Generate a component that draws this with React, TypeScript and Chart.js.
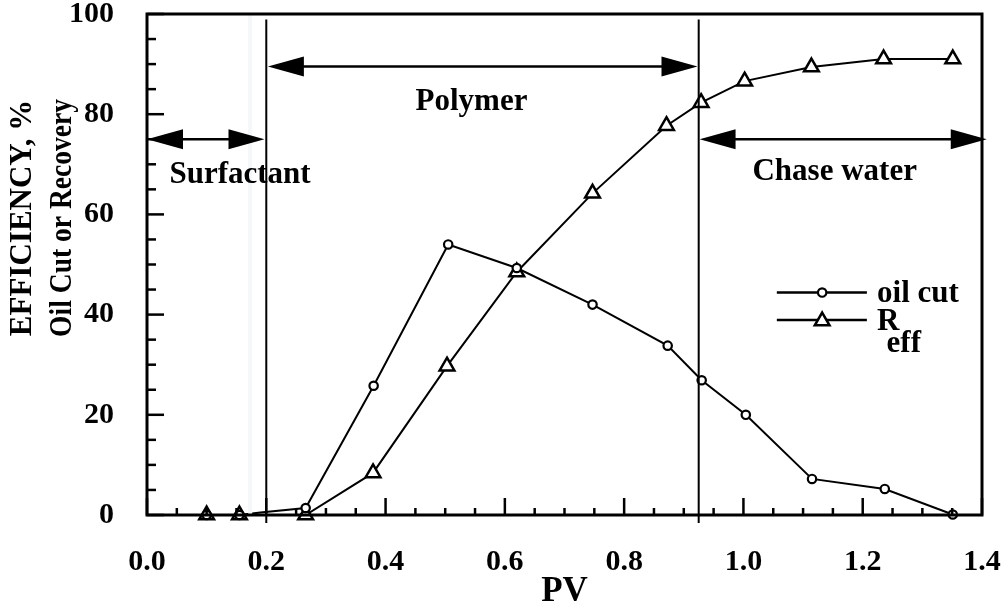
import React, { useEffect, useRef } from 'react';
import { Chart, registerables } from 'chart.js';

Chart.register(...registerables);

// ---- data ----
const oilCutPV = [0.1, 0.155, 0.19, 0.266, 0.38, 0.505, 0.62, 0.747, 0.873, 0.93, 1.004, 1.115, 1.237, 1.351];
const oilCut = [0, 0, 0.5, 1.4, 25.8, 54.0, 49.3, 42.0, 33.8, 26.9, 20.0, 7.2, 5.2, 0.1];
const oilCutHiddenMarker = [2];

const reffPV = [0.1, 0.155, 0.266, 0.379, 0.503, 0.62, 0.747, 0.871, 0.929, 1.002, 1.114, 1.235, 1.351];
const reff = [0, 0, 0, 8.4, 29.7, 48.5, 64.2, 77.7, 82.3, 86.6, 89.4, 91.0, 91.0];

// stage annotations
const stageBoundaries = [0.2, 0.925];
const faintLinePV = [0.173];
const stageNames = ['Surfactant', 'Polymer', 'Chase water'];
const arrowStart = [0.0, 0.2027, 0.9265];
const arrowEnd = [0.197, 0.923, 1.408];
const arrowLevel = [75, 89.5, 75];
const stageLabelPV = [0.156, 0.544, 1.153];
const stageLabelBaseline = [66.3, 80.8, 66.9];

const xMin = 0, xMax = 1.4, xStep = 0.2, xMinorStep = 0.05;
const yMin = 0, yMax = 100, yStep = 20, yMinorStep = 5;

const xTitle = 'PV';
const yTitleLines = ['EFFICIENCY, %', 'Oil Cut or Recovery'];
const legendNames = ['oil cut', 'R', 'eff'];

const FONT = '"Liberation Serif", "Times New Roman", serif';

function drawTriangle(ctx: CanvasRenderingContext2D, x: number, y: number, r: number) {
  ctx.beginPath();
  let rad = 0;
  ctx.moveTo(x + Math.sin(rad) * r, y - Math.cos(rad) * r);
  rad += (2 * Math.PI) / 3;
  ctx.lineTo(x + Math.sin(rad) * r, y - Math.cos(rad) * r);
  rad += (2 * Math.PI) / 3;
  ctx.lineTo(x + Math.sin(rad) * r, y - Math.cos(rad) * r);
  ctx.closePath();
  ctx.fillStyle = '#fff';
  ctx.fill();
  ctx.stroke();
}

function drawArrowHead(ctx: CanvasRenderingContext2D, tipX: number, y: number, dir: number) {
  const len = 36, half = 10;
  ctx.beginPath();
  ctx.moveTo(tipX, y);
  ctx.lineTo(tipX - dir * len, y - half);
  ctx.lineTo(tipX - dir * len, y + half);
  ctx.closePath();
  ctx.fillStyle = '#000';
  ctx.fill();
}

const decorPlugin = {
  id: 'decor',
  afterDatasetsDraw(chart: any) {
    const { ctx, chartArea, scales } = chart;
    const xs = scales.x, ys = scales.y;
    const X = (v: number) => xs.getPixelForValue(v);
    const Y = (v: number) => ys.getPixelForValue(v);
    ctx.save();

    // faint line
    ctx.strokeStyle = '#f4f8f8';
    ctx.lineWidth = 4;
    faintLinePV.forEach((v) => {
      ctx.beginPath();
      ctx.moveTo(X(v), chartArea.top);
      ctx.lineTo(X(v), chartArea.bottom);
      ctx.stroke();
    });

    // stage labels
    ctx.fillStyle = '#000';
    ctx.font = `bold 31px ${FONT}`;
    ctx.textAlign = 'center';
    ctx.textBaseline = 'alphabetic';
    stageNames.forEach((n, i) => {
      ctx.fillText(n, X(stageLabelPV[i]), Y(stageLabelBaseline[i]));
    });

    // stage boundaries
    ctx.strokeStyle = '#000';
    ctx.lineWidth = 2;
    stageBoundaries.forEach((v) => {
      ctx.beginPath();
      ctx.moveTo(X(v), Y(98.9));
      ctx.lineTo(X(v), Y(-1.6));
      ctx.stroke();
    });

    // arrows
    ctx.lineWidth = 2.5;
    arrowLevel.forEach((lv, i) => {
      const y = Y(lv);
      const a = X(arrowStart[i]);
      const b = X(arrowEnd[i]);
      ctx.strokeStyle = '#000';
      ctx.beginPath();
      ctx.moveTo(a + 20, y);
      ctx.lineTo(b - 20, y);
      ctx.stroke();
      drawArrowHead(ctx, a, y, -1);
      drawArrowHead(ctx, b, y, 1);
    });

    // frame
    ctx.strokeStyle = '#000';
    ctx.lineWidth = 3;
    ctx.strokeRect(chartArea.left, chartArea.top, chartArea.right - chartArea.left, chartArea.bottom - chartArea.top);

    // inward ticks
    ctx.lineWidth = 2.5;
    for (let v = xMin; v <= xMax + 1e-9; v += xMinorStep) {
      const major = Math.abs(v / xStep - Math.round(v / xStep)) < 1e-6;
      const px = X(v);
      ctx.beginPath();
      ctx.moveTo(px, chartArea.bottom);
      ctx.lineTo(px, chartArea.bottom - (major ? 17 : 7));
      ctx.stroke();
    }
    for (let v = yMin; v <= yMax + 1e-9; v += yMinorStep) {
      const major = Math.abs(v / yStep - Math.round(v / yStep)) < 1e-6;
      const py = Y(v);
      ctx.beginPath();
      ctx.moveTo(chartArea.left, py);
      ctx.lineTo(chartArea.left + (major ? 17 : 9), py);
      ctx.stroke();
    }

    // y title (two rotated lines)
    ctx.save();
    ctx.translate(23, Y(59.3));
    ctx.rotate(-Math.PI / 2);
    ctx.font = `bold 31px ${FONT}`;
    ctx.textAlign = 'center';
    ctx.textBaseline = 'middle';
    ctx.fillStyle = '#000';
    ctx.fillText(yTitleLines[0], 0, 0, 239);
    ctx.fillText(yTitleLines[1], 0, 40, 238);
    ctx.restore();

    // legend
    ctx.strokeStyle = '#000';
    ctx.lineWidth = 2.5;
    const lx0 = X(1.056), lx1 = X(1.207), lm = X(1.132);
    const ly0 = Y(44.4), ly1 = Y(38.9);
    ctx.beginPath();
    ctx.moveTo(lx0, ly0); ctx.lineTo(lx1, ly0);
    ctx.moveTo(lx0, ly1); ctx.lineTo(lx1, ly1);
    ctx.stroke();
    ctx.lineWidth = 2.2;
    ctx.beginPath();
    ctx.arc(lm, ly0, 4.2, 0, Math.PI * 2);
    ctx.fillStyle = '#fff';
    ctx.fill();
    ctx.stroke();
    ctx.lineWidth = 2.5;
    drawTriangle(ctx, lm, ly1 + 1, 8.5);
    ctx.fillStyle = '#000';
    ctx.font = `bold 31px ${FONT}`;
    ctx.textAlign = 'left';
    ctx.textBaseline = 'alphabetic';
    ctx.fillText(legendNames[0], X(1.224), Y(42.6));
    ctx.fillText(legendNames[1], X(1.224), Y(37.0));
    ctx.fillText(legendNames[2], X(1.240), Y(32.6));

    ctx.restore();
  },
};

const zeroPadding = (s: any) => {
  s.paddingTop = 0;
  s.paddingBottom = 0;
  s.paddingLeft = 0;
  s.paddingRight = 0;
};

export default function App() {
  const ref = useRef<HTMLCanvasElement>(null);
  useEffect(() => {
    const canvas = ref.current;
    if (!canvas) return;
    const chart = new Chart(canvas, {
      type: 'line',
      data: {
        datasets: [
          {
            label: 'oil cut',
            data: oilCutPV.map((x, i) => ({ x, y: oilCut[i] })),
            borderColor: '#000',
            backgroundColor: '#fff',
            borderWidth: 2,
            pointStyle: 'circle',
            pointRadius: (c: any) => (oilCutHiddenMarker.includes(c.dataIndex) ? 0 : 4.2),
            pointBorderWidth: 2.2,
            pointBackgroundColor: '#fff',
            pointBorderColor: '#000',
            tension: 0,
            clip: false as any,
            order: 0,
          },
          {
            label: 'R eff',
            data: reffPV.map((x, i) => ({ x, y: reff[i] })),
            borderColor: '#000',
            backgroundColor: '#fff',
            borderWidth: 2,
            pointStyle: 'triangle',
            pointRadius: 8.5,
            pointBorderWidth: 2.5,
            pointBackgroundColor: '#fff',
            pointBorderColor: '#000',
            tension: 0,
            clip: false as any,
            order: 1,
          },
        ],
      },
      options: {
        animation: false,
        responsive: false,
        maintainAspectRatio: false,
        layout: { padding: { top: 14, right: 26, left: 0, bottom: 0 } },
        plugins: { legend: { display: false }, tooltip: { enabled: false } },
        scales: {
          x: {
            type: 'linear',
            min: xMin,
            max: xMax,
            grid: { display: false },
            border: { display: false },
            ticks: {
              stepSize: xStep,
              maxRotation: 0,
              autoSkip: false,
              padding: 21,
              color: '#000',
              font: { family: FONT, size: 30, weight: 'bold' },
              callback: (v: any) => Number(v).toFixed(1),
            },
            title: {
              display: true,
              text: xTitle,
              color: '#000',
              padding: 0,
              font: { family: FONT, size: 35, weight: 'bold' },
            },
            afterFit: (s: any) => { s.height = 98; zeroPadding(s); },
          },
          y: {
            type: 'linear',
            min: yMin,
            max: yMax,
            grid: { display: false },
            border: { display: false },
            ticks: {
              stepSize: yStep,
              padding: 25,
              color: '#000',
              font: { family: FONT, size: 30, weight: 'bold' },
            },
            afterFit: (s: any) => { s.width = 147; zeroPadding(s); },
          },
        },
      },
      plugins: [decorPlugin],
    } as any);
    return () => chart.destroy();
  }, []);
  return (
    <div style={{ position: 'fixed', left: 0, top: 0, width: 1008, height: 613, background: '#fff' }}>
      <canvas ref={ref} width={1008} height={613} style={{ width: 1008, height: 613, display: 'block' }} />
    </div>
  );
}
